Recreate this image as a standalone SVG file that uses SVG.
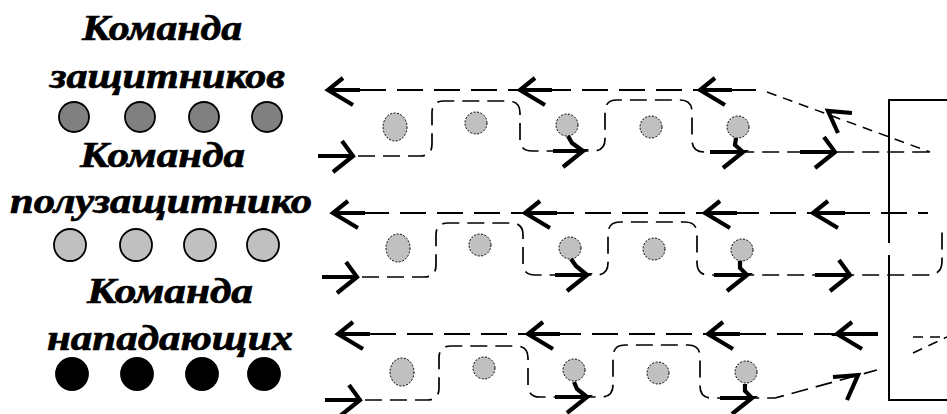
<svg xmlns="http://www.w3.org/2000/svg" xmlns:xlink="http://www.w3.org/1999/xlink" width="947" height="414" viewBox="0 0 947 414">
<style>
.lbl{font-family:"Liberation Serif","Times New Roman",serif;font-weight:bold;font-style:italic;font-size:36px;fill:#000;stroke:#000;stroke-width:0.7}
.tc{stroke:#000;stroke-width:1.8}
.pl{fill:#c0c0c0;stroke:#000;stroke-width:1;stroke-dasharray:2 1.5}
.dl{fill:none;stroke:#000;stroke-width:2;stroke-dasharray:26 11}
.sp{fill:none;stroke:#000;stroke-width:1.7;stroke-dasharray:17 8}
.dg{fill:none;stroke:#000;stroke-width:1.5;stroke-dasharray:10 7}
.ar{fill:none;stroke:#000;stroke-width:4.2;stroke-linejoin:miter}
.bx{fill:none;stroke:#000;stroke-width:2}
</style>
<defs>
<path id="ra" d="M-35 0H0M-11 -15L0 0L-20 16"/>
<path id="la" d="M32 0H0M15 -12L0 0L25 15"/>
</defs>
<rect width="947" height="414" fill="#fff"/>

<g id="team-defenders">
<text class="lbl" x="82" y="40" textLength="160" lengthAdjust="spacingAndGlyphs">Команда</text>
<text class="lbl" x="50" y="88" textLength="235" lengthAdjust="spacingAndGlyphs">защитников</text>
<circle class="tc" cx="74" cy="117" r="15" fill="#808080"/>
<circle class="tc" cx="140" cy="117" r="15" fill="#808080"/>
<circle class="tc" cx="204" cy="117" r="15" fill="#808080"/>
<circle class="tc" cx="267" cy="117" r="15" fill="#808080"/>
</g>
<g id="team-midfielders">
<text class="lbl" x="80" y="167" textLength="165" lengthAdjust="spacingAndGlyphs">Команда</text>
<text class="lbl" x="10" y="213" textLength="302" lengthAdjust="spacingAndGlyphs">полузащитнико</text>
<circle class="tc" cx="70" cy="245" r="16" fill="#c0c0c0"/>
<circle class="tc" cx="136" cy="245" r="16" fill="#c0c0c0"/>
<circle class="tc" cx="200" cy="245" r="16" fill="#c0c0c0"/>
<circle class="tc" cx="263" cy="245" r="16" fill="#c0c0c0"/>
</g>
<g id="team-attackers">
<text class="lbl" x="87" y="303" textLength="166" lengthAdjust="spacingAndGlyphs">Команда</text>
<text class="lbl" x="47" y="350" textLength="246" lengthAdjust="spacingAndGlyphs">нападающих</text>
<circle class="tc" cx="72" cy="374" r="16" fill="#000"/>
<circle class="tc" cx="137" cy="374" r="16" fill="#000"/>
<circle class="tc" cx="202" cy="374" r="16" fill="#000"/>
<circle class="tc" cx="264" cy="374" r="16" fill="#000"/>
</g>

<g id="field-players-row1">
<ellipse class="pl" cx="395" cy="127" rx="12" ry="14"/>
<circle class="pl" cx="476" cy="123" r="11"/>
<circle class="pl" cx="567" cy="125" r="11"/>
<circle class="pl" cx="651" cy="127" r="11"/>
<circle class="pl" cx="738" cy="127" r="11"/>
</g>
<g id="field-players-row2">
<ellipse class="pl" cx="398" cy="248" rx="12" ry="14"/>
<circle class="pl" cx="480" cy="245" r="11"/>
<circle class="pl" cx="570" cy="248" r="11"/>
<circle class="pl" cx="654" cy="249" r="11"/>
<circle class="pl" cx="742" cy="250" r="11"/>
</g>
<g id="field-players-row3">
<ellipse class="pl" cx="402" cy="372" rx="12" ry="14"/>
<circle class="pl" cx="484" cy="368" r="11"/>
<circle class="pl" cx="574" cy="370" r="11"/>
<circle class="pl" cx="658" cy="373" r="11"/>
<circle class="pl" cx="746" cy="372" r="11"/>
</g>

<g id="goal-box">
<path class="bx" d="M947 100H889V243M889 255V400H947"/>
</g>

<g id="connectors">
<!-- row 1 -->
<path class="dl" d="M360 90H765"/>
<path class="dg" d="M767 92L930 152"/>
<path class="ar" d="M852 113L828 111L838 133"/>
<path class="sp" d="M358 156H420Q432 156 432 144V113Q432 101 444 101H508Q520 101 520 113V139Q520 151 532 151H593Q605 151 605 139V112Q605 100 617 100H680Q692 100 692 112V140Q692 152 704 152H930"/>
<use xlink:href="#la" x="328" y="90" class="ar"/>
<use xlink:href="#la" x="520" y="90" class="ar"/>
<use xlink:href="#la" x="700" y="90" class="ar"/>
<use xlink:href="#ra" x="353" y="156" class="ar"/>
<path class="ar" d="M553 151H583L563 167M583 151L572 143L568 136"/>
<path class="ar" d="M710 152H743L723 168M743 152L735 145L736 138"/>
<use xlink:href="#ra" x="835" y="152" class="ar"/>
<!-- row 2 -->
<path class="dl" d="M363 213H928"/>
<path class="sp" d="M362 277H424Q436 277 436 265V235Q436 223 448 223H511Q523 223 523 235V263Q523 275 535 275H596Q608 275 608 263V234Q608 222 620 222H685Q697 222 697 234V263Q697 275 709 275H928Q942 275 942 261V226"/>
<use xlink:href="#la" x="333" y="213" class="ar"/>
<use xlink:href="#la" x="525" y="213" class="ar"/>
<use xlink:href="#la" x="705" y="213" class="ar"/>
<use xlink:href="#la" x="813" y="213" class="ar"/>
<use xlink:href="#ra" x="357" y="277" class="ar"/>
<path class="ar" d="M555 275H587L567 291M587 275L576 266L571 259"/>
<path class="ar" d="M714 275H747L727 291M747 275L740 268L740 261"/>
<use xlink:href="#ra" x="850" y="275" class="ar"/>
<!-- row 3 -->
<path class="dl" d="M370 334H878"/>
<path class="sp" d="M365 400H427Q439 400 439 388V358Q439 346 451 346H516Q528 346 528 358V385Q528 397 540 397H601Q613 397 613 385V357Q613 345 625 345H688Q700 345 700 357V386Q700 398 712 398H775L877 370"/>
<path class="ar" d="M833 377L858 375L847 400"/>
<path class="dg" d="M913 337H947M913 353L947 337"/>
<use xlink:href="#la" x="338" y="334" class="ar"/>
<use xlink:href="#la" x="528" y="334" class="ar"/>
<use xlink:href="#la" x="708" y="334" class="ar"/>
<path class="ar" d="M878 334H837L852 322M837 334L862 349"/>
<use xlink:href="#ra" x="360" y="400" class="ar"/>
<path class="ar" d="M555 397H587L567 413M587 397L577 389L574 382"/>
<path class="ar" d="M720 398H752L732 414M752 398L745 391L745 384"/>
</g>
</svg>
